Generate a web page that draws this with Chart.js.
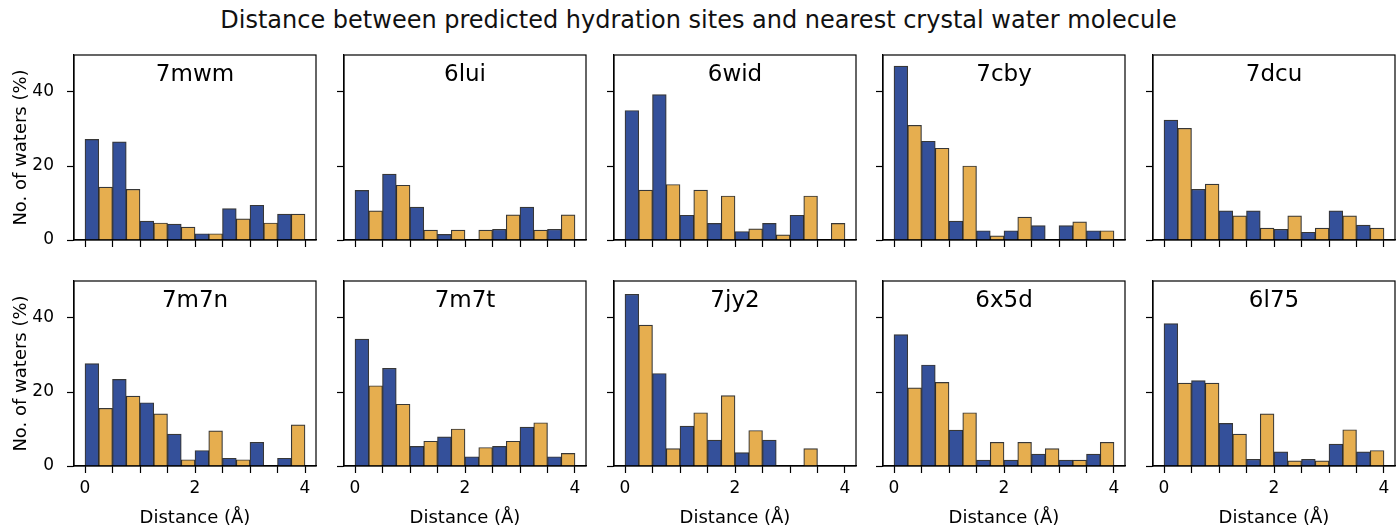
<!DOCTYPE html>
<html>
<head>
<meta charset="utf-8">
<script src="https://cdn.jsdelivr.net/npm/chart.js@4.4.0/dist/chart.umd.min.js"></script>
<style>
    body { margin: 0; background: #fff; width: 1397px; height: 530px; overflow: hidden; position: relative; font-family: 'DejaVu Sans', sans-serif; }
    #title { position: absolute; top: 6px; left: 0; width: 1397px; text-align: center; font-size: 24px; color: #111; }
    canvas { position: absolute; }
</style>
</head>
<body>
<div id="title">Distance between predicted hydration sites and nearest crystal water molecule</div>
<script>
// Structures (panel titles), in reading order
const structures = ['7mwm', '6lui', '6wid', '7cby', '7dcu', '7m7n', '7m7t', '7jy2', '6x5d', '6l75'];

// Histogram bins (0.5 Å wide), ticks
const binStarts = [0, 0.5, 1, 1.5, 2, 2.5, 3, 3.5];
const xTickVals = [0, 0.5, 1, 1.5, 2, 2.5, 3, 3.5, 4];
const xTickLabels = [0, 2, 4];
const yTickVals = [0, 20, 40];

// % of waters per bin - blue (left bar) and orange (right bar)
const blue7mwm = [27.2, 26.5, 5.1, 4.3, 1.7, 8.5, 9.4, 7.0];
const orange7mwm = [14.3, 13.7, 4.6, 3.5, 1.7, 5.7, 4.6, 7.0];
const blue6lui = [13.4, 17.8, 8.9, 1.5, 0, 2.9, 8.9, 2.9];
const orange6lui = [7.9, 14.8, 2.7, 2.7, 2.7, 6.8, 2.7, 6.8];
const blue6wid = [35.0, 39.3, 6.7, 4.5, 2.3, 4.5, 6.7, 0];
const orange6wid = [13.5, 15.0, 13.5, 11.9, 3.0, 1.4, 11.9, 4.5];
const blue7cby = [47.0, 26.7, 5.1, 2.5, 2.5, 3.9, 3.9, 2.5];
const orange7cby = [31.0, 24.8, 20.0, 1.1, 6.2, 0, 4.9, 2.5];
const blue7dcu = [32.4, 13.7, 7.9, 7.9, 2.9, 2.1, 7.9, 4.0];
const orange7dcu = [30.2, 15.1, 6.5, 3.2, 6.5, 3.2, 6.5, 3.2];
const blue7m7n = [27.7, 23.4, 17.1, 8.6, 4.2, 2.1, 6.4, 2.1];
const orange7m7n = [15.6, 18.9, 14.1, 1.7, 9.5, 1.7, 0, 11.1];
const blue7m7t = [34.3, 26.4, 5.3, 7.9, 2.5, 5.3, 10.5, 2.5];
const orange7m7t = [21.7, 16.7, 6.7, 10.0, 5.0, 6.7, 11.7, 3.4];
const blue7jy2 = [46.4, 25.0, 10.8, 7.0, 3.6, 7.0, 0, 0];
const orange7jy2 = [38.1, 4.7, 14.4, 19.0, 9.6, 0, 4.7, 0];
const blue6x5d = [35.5, 27.3, 9.7, 1.6, 1.6, 3.2, 1.6, 3.2];
const orange6x5d = [21.1, 22.6, 14.4, 6.4, 6.4, 4.7, 1.6, 6.4];
const blue6l75 = [38.5, 23.1, 11.5, 1.8, 3.8, 1.8, 5.9, 3.8];
const orange6l75 = [22.4, 22.4, 8.6, 14.1, 1.4, 1.4, 9.8, 4.2];

const blueSeries = [blue7mwm, blue6lui, blue6wid, blue7cby, blue7dcu, blue7m7n, blue7m7t, blue7jy2, blue6x5d, blue6l75];
const orangeSeries = [orange7mwm, orange6lui, orange6wid, orange7cby, orange7dcu, orange7m7n, orange7m7t, orange7jy2, orange6x5d, orange6l75];

// Layout (px)
const colLeft = [74, 344, 614, 883, 1153];
const rowTop = [55, 281];
const panelW = 242;
const panelH = 185;
const padTop = 4;
const padRight = 3;

const BLUE = '#34509a';
const ORANGE = '#e6ae4f';
const EDGE = 'rgba(20, 20, 20, 0.85)';

Chart.defaults.font.family = "'DejaVu Sans', sans-serif";
Chart.defaults.color = '#000';

// Frame box + panel title inside the axes
const panelFrame = {
    id: 'panelFrame',
    afterDraw(chart, args, opts) {
        const { ctx, chartArea: a } = chart;
        ctx.save();
        ctx.strokeStyle = '#000';
        ctx.lineWidth = 1.2;
        ctx.strokeRect(a.left, a.top, a.right - a.left, a.bottom - a.top);
        ctx.fillStyle = '#000';
        ctx.font = "23px 'DejaVu Sans'";
        ctx.textAlign = 'center';
        ctx.textBaseline = 'middle';
        ctx.fillText(opts.label, (a.left + a.right) / 2, a.top + 20);
        ctx.restore();
    }
};

function makeBars(values, offset) {
    return binStarts.map((b, i) => ({ x: b + offset, y: values[i] }));
}

function createPanel(idx) {
    const row = Math.floor(idx / 5);
    const col = idx % 5;
    const yAxisW = col === 0 ? 74 : 20;
    const xAxisH = row === 1 ? 64 : 14;

    const canvas = document.createElement('canvas');
    canvas.width = yAxisW + panelW + padRight;
    canvas.height = padTop + panelH + xAxisH;
    canvas.style.left = (colLeft[col] - yAxisW) + 'px';
    canvas.style.top = (rowTop[row] - padTop) + 'px';
    document.body.appendChild(canvas);

    const barStyle = {
        borderColor: EDGE,
        borderWidth: 1.2,
        grouped: false,
        barPercentage: 1,
        categoryPercentage: 1
    };

    new Chart(canvas.getContext('2d'), {
        type: 'bar',
        data: {
            datasets: [
                { label: 'blue', data: makeBars(blueSeries[idx], 0.125), backgroundColor: BLUE, ...barStyle },
                { label: 'orange', data: makeBars(orangeSeries[idx], 0.375), backgroundColor: ORANGE, ...barStyle }
            ]
        },
        options: {
            responsive: false,
            animation: false,
            layout: { padding: { top: padTop, right: padRight, left: 0, bottom: 0 } },
            plugins: {
                legend: { display: false },
                tooltip: { enabled: false },
                panelFrame: { label: structures[idx] }
            },
            scales: {
                x: {
                    type: 'linear',
                    min: -0.2,
                    max: 4.2,
                    offset: false,
                    afterBuildTicks: axis => { axis.ticks = xTickVals.map(v => ({ value: v })); },
                    afterFit: s => { s.height = xAxisH; s.paddingLeft = 0; s.paddingRight = 0; },
                    grid: { display: true, drawOnChartArea: false, drawTicks: true, tickLength: 7, tickColor: '#000', tickWidth: 1.2, offset: false },
                    border: { display: true, color: '#000', width: 1.2 },
                    ticks: {
                        display: row === 1,
                        autoSkip: false,
                        maxRotation: 0,
                        padding: 5,
                        font: { size: 17 },
                        color: '#000',
                        callback: v => xTickLabels.includes(v) ? String(v) : ''
                    },
                    title: {
                        display: row === 1,
                        text: 'Distance (Å)',
                        font: { size: 18 },
                        color: '#000',
                        padding: { top: 0, bottom: 1 }
                    }
                },
                y: {
                    type: 'linear',
                    min: 0,
                    max: 50,
                    afterBuildTicks: axis => { axis.ticks = yTickVals.map(v => ({ value: v })); },
                    afterFit: s => { s.width = yAxisW; s.paddingTop = 0; s.paddingBottom = 0; },
                    grid: { display: true, drawOnChartArea: false, drawTicks: true, tickLength: 7, tickColor: '#000', tickWidth: 1.2 },
                    border: { display: true, color: '#000', width: 1.2 },
                    ticks: {
                        display: col === 0,
                        padding: 13,
                        font: { size: 17 },
                        color: '#000'
                    },
                    title: {
                        display: col === 0,
                        text: 'No. of waters (%)',
                        font: { size: 18 },
                        color: '#000',
                        padding: { top: 11, bottom: 0 }
                    }
                }
            }
        },
        plugins: [panelFrame]
    });
}

structures.forEach((s, i) => createPanel(i));
</script>
</body>
</html>
